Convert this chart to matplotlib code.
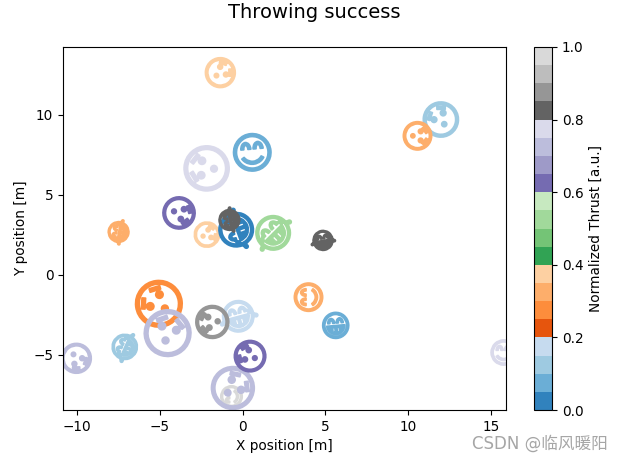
import matplotlib
matplotlib.use("Agg")
import matplotlib.pyplot as plt
from matplotlib.cm import ScalarMappable
from matplotlib.colors import Normalize
from matplotlib.markers import MarkerStyle
from matplotlib.path import Path
from matplotlib.text import TextPath
from matplotlib.transforms import Affine2D
import numpy as np

x_pos = [11.84, 10.51, -1.45, 0.42, -2.2, -3.82, -2.23, -7.55, -0.42, -0.84, 1.75, 4.77,
         3.93, 5.5, -5.19, -4.7, -0.36, -1.87, -7.18, -10.02, -0.72, -0.72, 0.36, 15.64]
y_pos = [9.69, 8.81, 12.75, 7.69, 6.56, 4.0, 2.63, 2.69, 2.81, 3.44, 2.63, 2.19,
         -1.44, -3.13, -1.85, -3.56, -2.56, -3.0, -4.5, -5.13, -7.63, -6.94, -5.13, -4.81]
skills = [4.6, 3.7, 3.9, 4.9, 5.9, 4.2, 3.3, 2.7, 4.5, 2.7, 4.5, 2.6,
          3.7, 3.4, 6.1, 6.1, 4.1, 4.3, 3.3, 3.9, 2.8, 5.6, 4.1, 3.3]
angles = [36, -90, -53, 5, 87, -108, -69, 80, 110, 100, 45, 10,
          90, 5, 52, -16, 15, 97, 66, -144, 90, -47, 68, 0]
thrusts = [0.125, 0.325, 0.375, 0.075, 0.775, 0.625, 0.375, 0.325, 0.025, 0.825, 0.525, 0.825,
           0.325, 0.075, 0.275, 0.725, 0.175, 0.875, 0.125, 0.725, 0.975, 0.725, 0.625, 0.775]
moods = [0, 0, 0, 1, 0, 0, 0, 2, 2, 2, 2, 2,
         1, 3, 0, 0, 2, 0, 2, 0, 1, 0, 0, 1]
x_ticks = [-10, -5, 0, 5, 10, 15]
y_ticks = [-5, 0, 5, 10]
cbar_ticks = [0.0, 0.2, 0.4, 0.6, 0.8, 1.0]

plt.rcParams["font.size"] = 9.8
plt.rcParams["font.family"] = ["DejaVu Sans", "Noto Sans CJK SC"]

W, H = 624, 462


def centred(ch):
    tp = TextPath((0, 0), ch)
    v = tp.vertices
    c = (v.min(0) + v.max(0)) / 2
    return Path(v - c, tp.codes)


symbols = [centred("😯"), centred("😊"), centred("😂"), centred("😁")]
reach = [np.abs(s.vertices).max() for s in symbols]

cmap = plt.colormaps["tab20c"]
fig = plt.figure(figsize=(W / 100, H / 100), dpi=100)
ax = fig.add_axes([63 / W, 1 - 410 / H, (506 - 63) / W, (410 - 47) / H])
fig.suptitle("Throwing success", x=314.5 / W, y=1 - 3 / H, size=14, va="top")

for x, y, skill, ang, th, mood in zip(x_pos, y_pos, skills, angles, thrusts, moods):
    t = Affine2D().scale(skill * reach[mood] / reach[0]).rotate_deg(ang)
    ax.plot(x, y, marker=MarkerStyle(symbols[mood], transform=t), color=cmap(th),
            ls="none", markeredgewidth=1.3)

ax.set_xlim(-10.85, 15.9)
ax.set_ylim(-8.44, 14.25)
ax.set_xticks(x_ticks)
ax.set_yticks(y_ticks)
ax.set_xlabel("X position [m]")
ax.set_ylabel("Y position [m]")

cax = fig.add_axes([534 / W, 1 - 410 / H, (552 - 534) / W, (410 - 47) / H])
cb = fig.colorbar(ScalarMappable(norm=Normalize(0, 1), cmap=cmap), cax=cax,
                  label="Normalized Thrust [a.u.]")
cb.set_ticks(cbar_ticks)

fig.text(608 / W, 1 - 443.5 / H, "CSDN @临风暖阳", color="#a6a6a6", fontsize=12,
         ha="right", va="center")
fig.savefig("out.png", dpi=100)
